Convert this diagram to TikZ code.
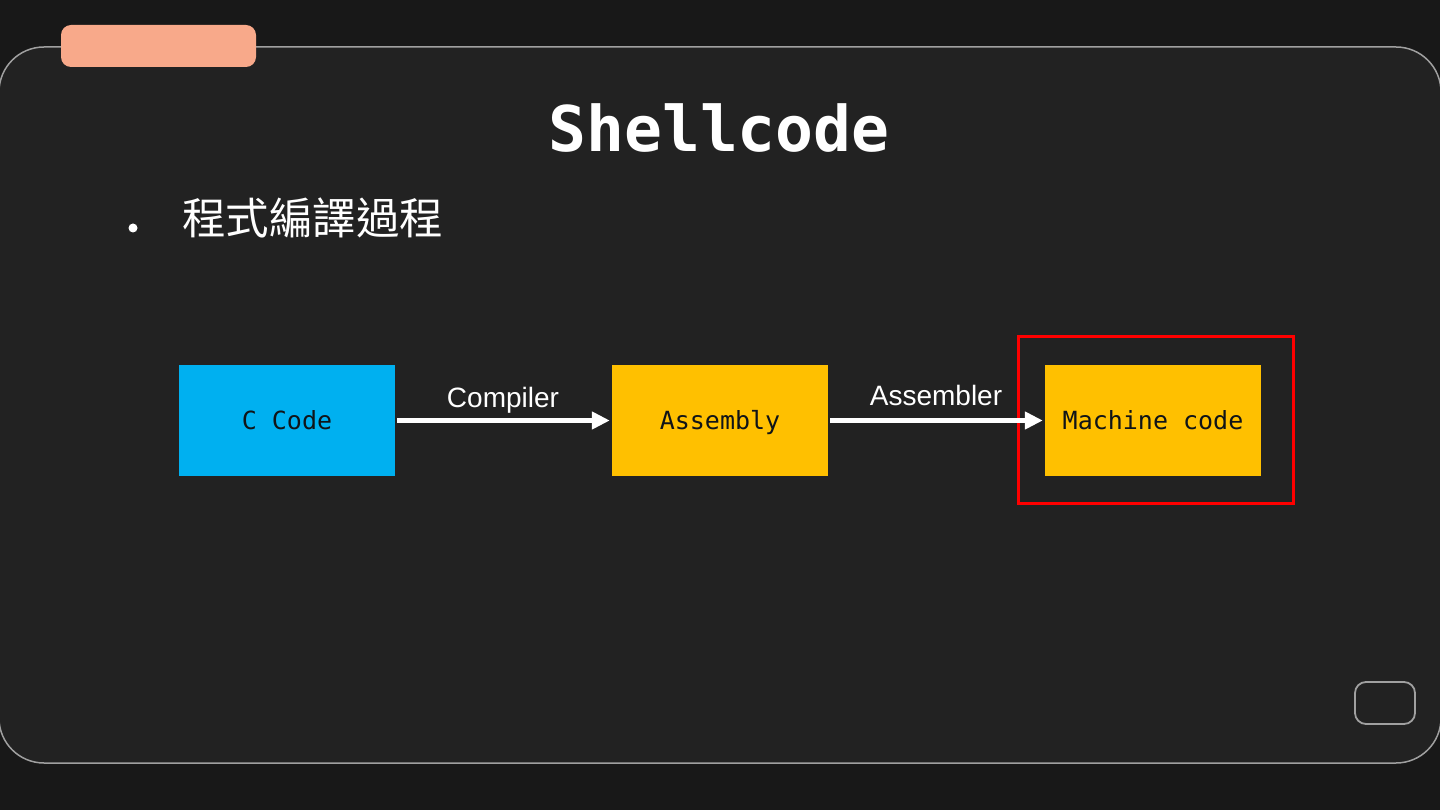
\documentclass[tikz,border=0pt]{standalone}
\usepackage{fontspec}
\setmainfont{Liberation Sans}
\newfontfamily\monofont{DejaVu Sans Mono}
\newfontfamily\cjkfont{Noto Sans CJK TC}
\usetikzlibrary{arrows.meta}
\definecolor{outerbg}{HTML}{181818}
\definecolor{panelbg}{HTML}{222222}
\definecolor{panelline}{HTML}{A0A0A0}
\definecolor{salmon}{HTML}{F8A98A}
\definecolor{cblue}{HTML}{00B0F0}
\definecolor{cyellow}{HTML}{FFC000}
\definecolor{cred}{HTML}{FF0000}
\definecolor{boxtext}{HTML}{101418}
\tikzset{
  procbox/.style={minimum width=216pt, minimum height=111pt, inner sep=0pt, text height=18.2pt, text depth=0pt, font=\monofont\fontsize{25}{30}\selectfont, text=boxtext},
  flowarrow/.style={draw=white, line width=5pt, -{Triangle[length=18pt,width=17pt]}},
  flowlabel/.style={text=white, font=\fontsize{28}{32}\selectfont, inner sep=0pt, text height=20pt, text depth=0pt}
}
\begin{document}
\begin{tikzpicture}[x=1pt,y=-1pt]
\useasboundingbox (0,0) rectangle (1440,810);
\fill[outerbg] (0,0) rectangle (1440,810);
\draw[panelline, line width=1.5pt, fill=panelbg, rounded corners=45pt] (-1,47) rectangle (1441,763);
\fill[salmon, rounded corners=10pt] (61,25) rectangle (256,67);
\draw[panelline, line width=1.8pt, rounded corners=11pt] (1355,682) rectangle (1415,724);
\node[text=white, font=\monofont\bfseries\fontsize{63}{70}\selectfont, inner sep=0pt, text height=46pt, text depth=0pt] (title) at (719,129) {Shellcode};
\fill[white] (133,228) circle (4.5pt);
\node[text=white, font=\cjkfont\fontsize{43.5}{48}\selectfont, anchor=west, inner sep=0pt] (bullet) at (182,218) {程式編譯過程};
\node[procbox, fill=cblue] (c) at (287,420.5) {C Code};
\node[procbox, fill=cyellow] (asm) at (720,420.5) {Assembly};
\node[procbox, fill=cyellow] (mc) at (1153,420.5) {Machine code};
\node[draw=cred, line width=3.5pt, minimum width=275pt, minimum height=167pt, inner sep=0pt] (hl) at (1156,420) {};
\draw[flowarrow] ([xshift=2pt]c.east) -- ([xshift=-2pt]asm.west);
\draw[flowarrow] ([xshift=2pt]asm.east) -- ([xshift=-2pt]mc.west);
\node[flowlabel] (l1) at (503,397) {Compiler};
\node[flowlabel] (l2) at (936,395) {Assembler};
\end{tikzpicture}
\end{document}
